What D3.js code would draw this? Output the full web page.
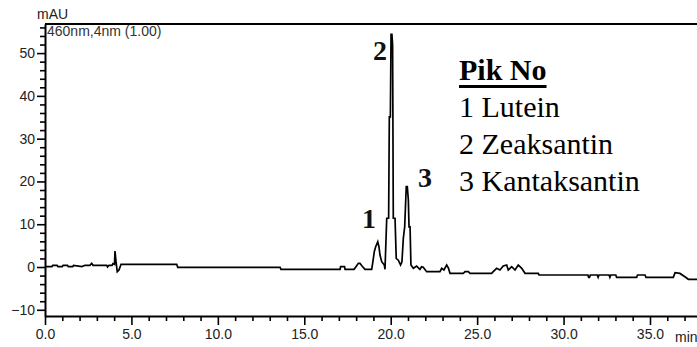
<!DOCTYPE html>
<html>
<head>
<meta charset="utf-8">
<script src="https://cdn.jsdelivr.net/npm/d3@7"></script>
<style>
  body { margin: 0; background: #fff; }
  svg { display: block; }
  .tick text { font-family: "Liberation Sans", Arial, sans-serif; font-size: 14px; fill: #222; }
  .sans { font-family: "Liberation Sans", Arial, sans-serif; font-size: 14px; }
  .serif { font-family: "Liberation Serif", "Times New Roman", serif; }
</style>
</head>
<body>
<div id="chart"></div>
<script>
// retention time (min) and absorbance (mAU)
const times = [0, 0.4, 0.45, 0.7, 0.75, 1.0, 1.05, 1.3, 1.35, 1.6, 1.65, 2.14, 2.31, 2.6, 2.7, 2.78, 3.57, 3.62, 3.7, 3.88, 3.93, 4.02,
  4.05, 4.11, 4.18, 4.28, 4.4, 7.62, 7.68, 13.6, 13.65, 17.07, 17.1, 17.33, 17.36, 17.88, 18.0, 18.13, 18.22, 18.34, 18.51,
  18.9, 18.97, 19.05, 19.13, 19.25, 19.32, 19.38, 19.48, 19.63, 19.67, 19.77, 19.88, 19.92, 19.98, 20.02, 20.07, 20.11,
  20.15, 20.25, 20.32, 20.44, 20.57, 20.65, 20.73, 20.81, 20.87, 20.9, 20.96, 21.02, 21.06, 21.12, 21.17, 21.31, 21.5,
  21.69, 21.79, 21.88, 22.08, 22.85, 22.95, 23.08, 23.24, 23.34, 23.43, 24.2, 24.3, 24.49, 24.59, 25.84, 25.93, 26.13,
  26.32, 26.51, 26.71, 26.8, 27.0, 27.19, 27.38, 27.58, 27.77, 28.54, 28.58, 31.41, 31.45, 31.5, 31.55, 31.95, 32.0,
  32.05, 32.63, 32.68, 32.73, 33.02, 33.07, 34.23, 34.28, 34.71, 34.77, 36.35, 36.45, 36.73, 37.02, 37.22, 37.72];
const absorb = [0.07, 0.07, 0.4, 0.4, 0.07, 0.07, 0.4, 0.4, 0.07, 0.07, 0.4, 0.1, 0.4, 0.4, 0.86, 0.4, 0.4, 0.0, 0.4, 0.4, 0.8, 0.6,
  3.74, 1.2, -1.1, -0.7, 0.63, 0.63, -0.07, -0.07, -0.54, -0.54, 0.07, 0.07, -0.54, -0.54, 0.12, 0.86, 0.86, 0.23, -0.54,
  -0.54, 1.24, 3.57, 4.74, 5.9, 4.74, 2.8, 1.24, 0.47, -0.54, 11.4, 11.4, 35.1, 35.1, 54.4, 54.4, 51.9,
  11.4, 11.4, 2.0, 1.6, 0.47, 1.2, 6.7, 9.4, 15.7, 18.8, 18.8, 15.7, 9.4, 9.4, 0.47, -0.3, 0.23,
  -0.54, 0.07, -0.07, -1.1, -1.1, -0.3, -0.7, 0.47, -0.23, -1.47, -1.47, -1.1, -1.1, -1.47, -1.47, -1.1, -0.3,
  -0.7, 0.23, 0.47, -0.7, 0.07, -0.7, 0.47, -0.3, -1.47, -1.47, -1.87, -1.87, -2.4, -2.4, -1.87, -1.87, -2.4,
  -1.87, -1.87, -2.4, -1.87, -1.87, -2.4, -2.4, -1.87, -1.87, -2.4, -2.4, -1.33, -1.5, -2.27, -2.87, -2.87];

// peak numbers and where their labels sit (min, mAU)
const peakNames = ["1", "2", "3"];
const peakLabelT = [18.74, 19.38, 21.98];
const peakLabelV = [9.1, 48.4, 18.7];

const legendTitle = "Pik No";
const legendItems = ["1 Lutein", "2 Zeaksantin", "3 Kantaksantin"];

const xMajor = [0, 5, 10, 15, 20, 25, 30, 35];
const yMajor = [-10, 0, 10, 20, 30, 40, 50];

const width = 697, height = 347;
const margin = { top: 24, right: 0, bottom: 31, left: 45 };

const svg = d3.select("#chart").append("svg")
  .attr("width", width)
  .attr("height", height);

const x = d3.scaleLinear().domain([0, 37.72]).range([margin.left, width - margin.right]);
const y = d3.scaleLinear().domain([-11.45, 56.8]).range([height - margin.bottom, margin.top]);

const xMinor = d3.range(0, 38, 1).filter(d => d % 5 !== 0);
const yMinor = d3.range(-10, 57, 2).filter(d => d % 10 !== 0);

// minor ticks
svg.append("g")
  .attr("transform", `translate(0,${height - margin.bottom})`)
  .call(d3.axisBottom(x).tickValues(xMinor).tickSize(5).tickFormat(""))
  .call(g => g.select(".domain").remove())
  .selectAll("line").attr("stroke", "#000").attr("stroke-width", 1.6);

svg.append("g")
  .attr("transform", `translate(${margin.left},0)`)
  .call(d3.axisLeft(y).tickValues(yMinor).tickSize(5).tickFormat(""))
  .call(g => g.select(".domain").remove())
  .selectAll("line").attr("stroke", "#000").attr("stroke-width", 1.6);

// major axes
const xAxis = svg.append("g")
  .attr("transform", `translate(0,${height - margin.bottom})`)
  .call(d3.axisBottom(x).tickValues(xMajor).tickSize(9).tickSizeOuter(0).tickFormat(d3.format(".1f")));
xAxis.select(".domain").attr("stroke-width", 2);
xAxis.selectAll(".tick line").attr("stroke-width", 1.6);
xAxis.selectAll(".tick text").attr("y", 13);

const yAxis = svg.append("g")
  .attr("transform", `translate(${margin.left},0)`)
  .call(d3.axisLeft(y).tickValues(yMajor).tickSize(8).tickSizeOuter(0).tickFormat(d3.format("d")));
yAxis.select(".domain").attr("stroke-width", 2);
yAxis.selectAll(".tick line").attr("stroke-width", 1.6);
yAxis.selectAll(".tick text").attr("x", -10);

// top frame
svg.append("line")
  .attr("x1", margin.left).attr("x2", width)
  .attr("y1", margin.top).attr("y2", margin.top)
  .attr("stroke", "#000").attr("stroke-width", 2);

// chromatogram trace
const pts = times.map((t, i) => [t, absorb[i]]);
svg.append("path")
  .datum(pts)
  .attr("fill", "none")
  .attr("stroke", "#000")
  .attr("stroke-width", 1.7)
  .attr("d", d3.line().x(d => x(d[0])).y(d => y(d[1])));

// units and channel text
svg.append("text")
  .attr("class", "sans")
  .attr("x", 37).attr("y", 19)
  .attr("fill", "#222")
  .text("mAU");

svg.append("text")
  .attr("class", "sans")
  .attr("x", 47).attr("y", 36)
  .attr("fill", "#333")
  .text("460nm,4nm (1.00)");

svg.append("text")
  .attr("class", "sans")
  .attr("x", 675).attr("y", 342)
  .attr("fill", "#222")
  .text("min");

// peak labels
svg.selectAll(".peak")
  .data(peakNames)
  .join("text")
  .attr("class", "peak serif")
  .attr("x", (d, i) => x(peakLabelT[i]))
  .attr("y", (d, i) => y(peakLabelV[i]))
  .attr("text-anchor", "middle")
  .style("font-weight", "bold")
  .style("font-size", "28px")
  .attr("fill", "#111")
  .text(d => d);

// legend
const lg = svg.append("g").attr("transform", "translate(459,80)");
const title = lg.append("text")
  .attr("class", "serif")
  .style("font-weight", "bold")
  .style("font-size", "30px")
  .attr("fill", "#000")
  .text(legendTitle);
const tw = title.node().getComputedTextLength();
lg.append("rect")
  .attr("x", 0).attr("y", 5)
  .attr("width", tw).attr("height", 3)
  .attr("fill", "#000");

lg.selectAll(".item")
  .data(legendItems)
  .join("text")
  .attr("class", "item serif")
  .attr("y", (d, i) => 37 * (i + 1))
  .style("font-size", "30px")
  .attr("fill", "#000")
  .text(d => d);
</script>
</body>
</html>
